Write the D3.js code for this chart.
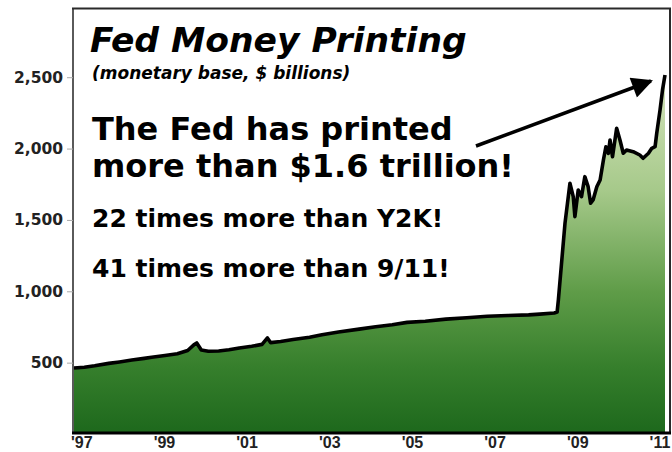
<!DOCTYPE html>
<html>
<head>
<meta charset="utf-8">
<script src="https://cdn.jsdelivr.net/npm/d3@7"></script>
<style>
html,body{margin:0;padding:0;background:#fff;}
svg{display:block;}
</style>
</head>
<body>
<svg id="chart" width="672" height="452"></svg>
<script>
// ---- data (decimal year, monetary base in $ billions) ----
const years = [1997.00,1997.25,1997.50,1997.84,1998.10,1998.40,1998.70,1998.88,1999.20,1999.50,1999.75,1999.90,1999.97,
  2000.08,2000.25,2000.50,2000.75,2001.00,2001.30,2001.55,2001.68,2001.76,2002.00,2002.30,2002.70,2003.00,2003.40,
  2003.90,2004.30,2004.70,2005.06,2005.50,2006.00,2006.50,2007.00,2007.50,2008.00,2008.27,2008.62,2008.69,2008.72,
  2008.88,2009.00,2009.08,2009.12,2009.20,2009.28,2009.36,2009.44,2009.50,2009.56,2009.65,2009.73,2009.81,2009.87,
  2009.93,2009.97,2010.03,2010.13,2010.21,2010.29,2010.37,2010.53,2010.69,2010.77,2010.90,2010.98,2011.06,2011.10,
  2011.18,2011.24,2011.30];
const values = [462,468,478,495,505,518,530,538,550,562,585,625,638,
  588,580,582,590,603,615,628,673,640,648,662,678,695,715,
  735,752,765,782,790,805,815,825,830,835,840,848,855,940,
  1476,1757,1663,1523,1710,1663,1803,1733,1617,1640,1733,1780,1920,2013,
  1967,2060,1943,2142,2060,1967,1990,1978,1955,1932,1967,2002,2013,2107,
  2270,2411,2516];
const yTicks = [500,1000,1500,2000,2500];
const xTickYears = [1997,1999,2001,2003,2005,2007,2009,2011];
const xTickLabels = ["'97","'99","'01","'03","'05","'07","'09","'11"];
const titleText = "Fed Money Printing";
const subtitleText = "(monetary base, $ billions)";
const calloutLines = ["The Fed has printed","more than $1.6 trillion!"];
const factLines = ["22 times more than Y2K!","41 times more than 9/11!"];

const data = years.map((t,i)=>({t, v: values[i]}));

const svg = d3.select("#chart");
const pLeft = 74, pRight = 665, pTop = 8, pBottom = 434;
const x = d3.scaleLinear().domain([1997, 2011.3]).range([pLeft, pRight]);
const y = d3.scaleLinear().domain([0, 2985]).range([pBottom, pTop]);

// gradient
const defs = svg.append("defs");
const grad = defs.append("linearGradient").attr("id","g").attr("gradientUnits","userSpaceOnUse")
  .attr("x1",0).attr("x2",0).attr("y1",60).attr("y2",pBottom);
[[0,"#dbe8c2"],[0.35,"#a6c98a"],[0.62,"#5f9c48"],[0.82,"#367f2c"],[1,"#1d681c"]].forEach(([o,c])=>{
  grad.append("stop").attr("offset",o).attr("stop-color",c);
});

// area
const area = d3.area().x(d=>x(d.t)).y0(y(0)).y1(d=>y(d.v)).curve(d3.curveLinear);
svg.append("path").datum(data).attr("d",area).attr("fill","url(#g)");
const line = d3.line().x(d=>x(d.t)).y(d=>y(d.v));
svg.append("path").datum(data).attr("d",line).attr("fill","none")
  .attr("stroke","#000").attr("stroke-width",3.6).attr("stroke-linejoin","round");

// frame
svg.append("line").attr("x1",73).attr("x2",73).attr("y1",8).attr("y2",434).attr("stroke","#5a5a5a").attr("stroke-width",2);
svg.append("line").attr("x1",72).attr("x2",671).attr("y1",8.5).attr("y2",8.5).attr("stroke","#2a2a2a").attr("stroke-width",2);
svg.append("line").attr("x1",670).attr("x2",670).attr("y1",8).attr("y2",434).attr("stroke","#2a2a2a").attr("stroke-width",2);
svg.append("line").attr("x1",72).attr("x2",671).attr("y1",433).attr("y2",433).attr("stroke","#000").attr("stroke-width",3);

// y axis
const yAxis = d3.axisLeft(y).tickValues(yTicks).tickFormat(d3.format(",")).tickSize(6).tickPadding(4);
const ya = svg.append("g").attr("transform","translate(73,0)").call(yAxis);
ya.select(".domain").remove();
ya.selectAll(".tick line").attr("stroke","#aaa");
ya.selectAll(".tick text").attr("font-family","'DejaVu Sans',Verdana,sans-serif").attr("font-weight","bold")
  .attr("font-size","15.5px").attr("fill","#222");

// x labels
svg.append("g").selectAll("text").data(xTickYears).join("text")
  .attr("x",d=>x(d)-3).attr("y",448)
  .attr("font-family","'Liberation Sans Narrow','Liberation Sans',Arial,sans-serif").attr("font-weight","bold").attr("font-size","16px")
  .attr("fill","#222").text((d,i)=>xTickLabels[i]);

// titles
svg.append("text").attr("x",90).attr("y",52).attr("font-family","'DejaVu Sans',Verdana,sans-serif")
  .attr("font-weight","bold").attr("font-style","italic").attr("font-size","34.5px").attr("fill","#000").text(titleText);
svg.append("text").attr("x",92).attr("y",79).attr("font-family","'DejaVu Sans',Verdana,sans-serif")
  .attr("font-weight","bold").attr("font-style","italic").attr("font-size","17px").attr("fill","#000").text(subtitleText);

// callout
svg.append("g").selectAll("text").data(calloutLines).join("text")
  .attr("x",92).attr("y",(d,i)=>140+i*37)
  .attr("font-family","'DejaVu Sans',Verdana,sans-serif").attr("font-weight","bold").attr("font-size","32px")
  .attr("fill","#000").text(d=>d);
svg.append("g").selectAll("text").data(factLines).join("text")
  .attr("x",92).attr("y",(d,i)=>227+i*50)
  .attr("font-family","'DejaVu Sans',Verdana,sans-serif").attr("font-weight","bold").attr("font-size","25px")
  .attr("fill","#000").text(d=>d);

// arrow
defs.append("marker").attr("id","ah").attr("viewBox","0 0 10 10").attr("refX",9).attr("refY",5)
  .attr("markerWidth",6.5).attr("markerHeight",6).attr("orient","auto").attr("markerUnits","strokeWidth")
  .append("path").attr("d","M0,0 L10,5 L0,10 z").attr("fill","#000");
svg.append("line").attr("x1",476).attr("y1",146).attr("x2",651).attr("y2",81)
  .attr("stroke","#000").attr("stroke-width",3.5).attr("marker-end","url(#ah)");
</script>
</body>
</html>
